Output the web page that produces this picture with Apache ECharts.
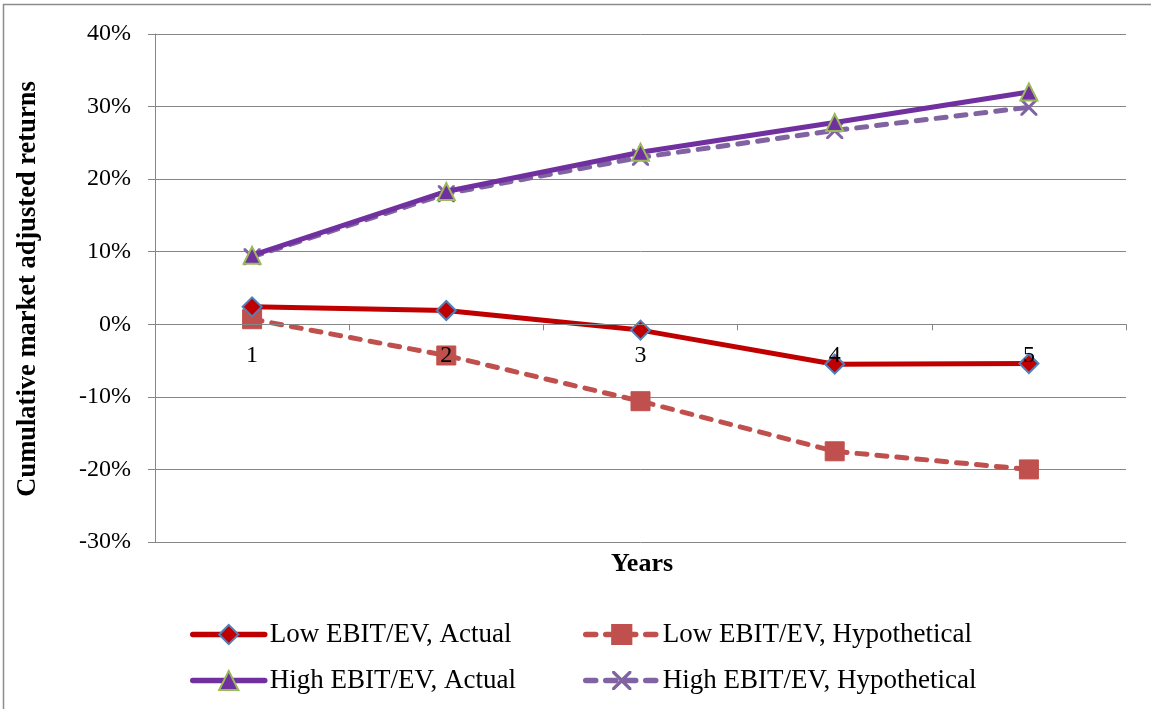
<!DOCTYPE html>
<html>
<head>
<meta charset="utf-8">
<script src="https://cdn.jsdelivr.net/npm/echarts@6/dist/echarts.min.js"></script>
<style>
  html, body { margin: 0; padding: 0; background: #ffffff; }
  #chart { width: 1151px; height: 709px; }
</style>
</head>
<body>
<div id="chart"></div>
<script>
// Holding-period years on the x axis
const years = ['1', '2', '3', '4', '5'];

// Cumulative market adjusted returns, in percent
const lowActual        = [2.4, 1.9, -0.8, -5.5, -5.4];
const lowHypothetical  = [0.7, -4.3, -10.6, -17.5, -20.0];
const highActual       = [9.5, 18.3, 23.7, 27.8, 32.0];
const highHypothetical = [9.3, 18.0, 23.0, 26.7, 29.9];

// Y axis range and step (percent)
const yMin = -30, yMax = 40, yStep = 10;

const seriesNames = [
  'Low EBIT/EV, Actual',
  'Low EBIT/EV, Hypothetical',
  'High EBIT/EV, Actual',
  'High EBIT/EV, Hypothetical'
];

const SERIF = '"Liberation Serif", "Times New Roman", serif';
const GRID_GRAY = '#868686';

// Plot box
const GRID = { left: 155, right: 25, top: 34, bottom: 167 };
const CHART_H = 709;
const plotHeight = CHART_H - GRID.top - GRID.bottom;
// Lift the category axis up to the 0% line
const zeroOffset = -plotHeight * (0 - yMin) / (yMax - yMin);

// X-shaped marker built from two thin bars
const crossPath = 'path://M0,0 L2.5,0 L10,7.5 L17.5,0 L20,0 L20,2.5 L12.5,10 L20,17.5 L20,20 L17.5,20 L10,12.5 L2.5,20 L0,20 L0,17.5 L7.5,10 L0,2.5 Z';

const chart = echarts.init(document.getElementById('chart'), null, { renderer: 'canvas' });

function legendAt(name, left, top) {
  return {
    data: [name],
    left: left,
    top: top,
    orient: 'horizontal',
    itemWidth: 72,
    itemHeight: 24,
    itemGap: 0,
    padding: 0,
    selectedMode: false,
    lineStyle: { width: 5.5, cap: 'round' },
    textStyle: { fontFamily: SERIF, fontSize: 27, color: '#000000' }
  };
}

const option = {
  backgroundColor: '#ffffff',
  animation: false,
  grid: Object.assign({ containLabel: false }, GRID),
  legend: [
    legendAt(seriesNames[0], 190, 621),
    legendAt(seriesNames[1], 583, 621),
    legendAt(seriesNames[2], 190, 667),
    legendAt(seriesNames[3], 583, 667)
  ],
  xAxis: {
    type: 'category',
    data: years,
    boundaryGap: true,
    offset: zeroOffset,
    z: 10,
    axisLine: { onZero: false, lineStyle: { color: GRID_GRAY, width: 1 } },
    axisTick: { show: true, length: 6, lineStyle: { color: GRID_GRAY } },
    axisLabel: { fontFamily: SERIF, fontSize: 24, color: '#000000', margin: 19 },
    splitLine: { show: false }
  },
  yAxis: {
    type: 'value',
    min: yMin,
    max: yMax,
    interval: yStep,
    axisLine: { show: true, lineStyle: { color: GRID_GRAY, width: 1 } },
    axisTick: { show: true, length: 7, lineStyle: { color: GRID_GRAY } },
    axisLabel: {
      fontFamily: SERIF, fontSize: 24, color: '#000000', margin: 24,
      formatter: '{value}%'
    },
    splitLine: { show: true, lineStyle: { color: GRID_GRAY, width: 1 } }
  },
  graphic: [
    {
      type: 'rect',
      shape: { x: 3.5, y: 4.5, width: 1200, height: 760 },
      style: { fill: 'none', stroke: '#8c8c8c', lineWidth: 1.5 },
      silent: true,
      z: -10
    },
    {
      type: 'text',
      x: 28,
      y: 289,
      rotation: Math.PI / 2,
      style: {
        text: 'Cumulative market adjusted returns',
        fontFamily: SERIF, fontSize: 26.5, fontWeight: 'bold', fill: '#000000',
        align: 'center', verticalAlign: 'middle'
      }
    },
    {
      type: 'text',
      x: 642,
      y: 564,
      style: {
        text: 'Years',
        fontFamily: SERIF, fontSize: 26, fontWeight: 'bold', fill: '#000000',
        align: 'center', verticalAlign: 'middle'
      }
    }
  ],
  series: [
    {
      name: seriesNames[0],
      type: 'line',
      data: lowActual,
      symbol: 'diamond',
      symbolSize: 19,
      lineStyle: { color: '#C00000', width: 5, type: 'solid', cap: 'round' },
      itemStyle: { color: '#C00000', borderColor: '#4F81BD', borderWidth: 2 },
      z: 4
    },
    {
      name: seriesNames[1],
      type: 'line',
      data: lowHypothetical,
      symbol: 'rect',
      symbolSize: 19,
      lineStyle: { color: '#C0504D', width: 5, type: [10, 10], cap: 'round' },
      itemStyle: { color: '#C0504D', borderColor: '#C0504D', borderWidth: 1 },
      z: 3
    },
    {
      name: seriesNames[2],
      type: 'line',
      data: highActual,
      symbol: 'triangle',
      symbolSize: 17,
      lineStyle: { color: '#7030A0', width: 5, type: 'solid', cap: 'round' },
      itemStyle: { color: '#7030A0', borderColor: '#9BBB59', borderWidth: 2 },
      z: 4
    },
    {
      name: seriesNames[3],
      type: 'line',
      data: highHypothetical,
      symbol: crossPath,
      symbolSize: 17,
      lineStyle: { color: '#8064A2', width: 5, type: [10, 10], cap: 'round' },
      itemStyle: { color: '#8064A2', borderColor: '#8064A2', borderWidth: 0 },
      z: 3
    }
  ]
};

chart.setOption(option);
</script>
</body>
</html>
